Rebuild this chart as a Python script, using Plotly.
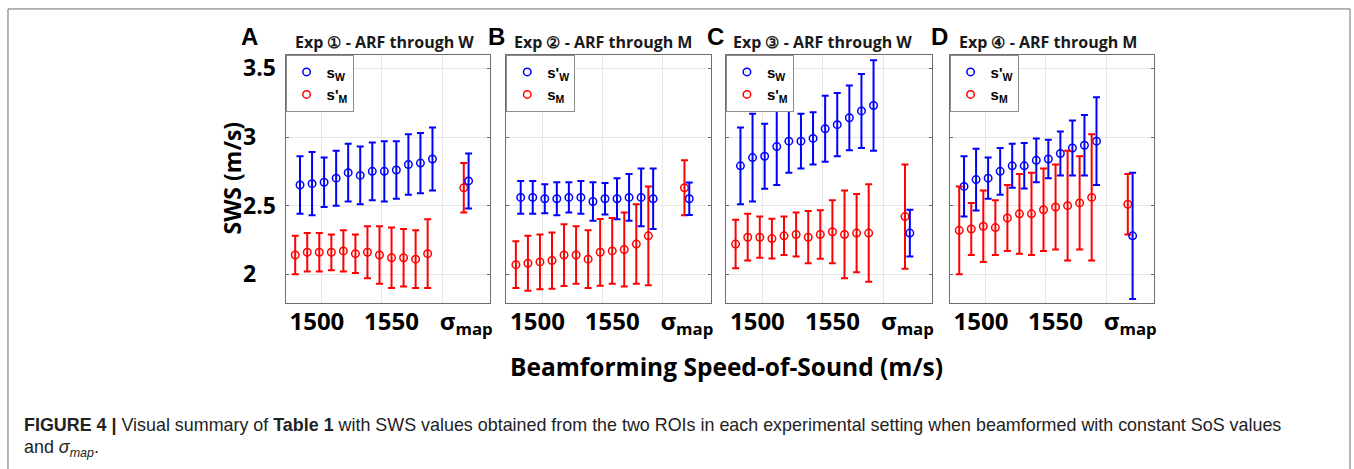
import plotly.graph_objects as go

W, H = 1354, 469

# ---------------- data ----------------
sos = [1480, 1490, 1500, 1510, 1520, 1530, 1540, 1550, 1560, 1570, 1580, 1590]
sigma_x = 1620  # position of the sigma_map group on the axis

panel_letters = ["A", "B", "C", "D"]
panel_titles = ["Exp \u2460 - ARF through W", "Exp \u2461 - ARF through M",
                "Exp \u2462 - ARF through W", "Exp \u2463 - ARF through M"]

blue_names = ["s<sub>W</sub>", "s'<sub>W</sub>", "s<sub>W</sub>", "s'<sub>W</sub>"]
red_names = ["s'<sub>M</sub>", "s<sub>M</sub>", "s'<sub>M</sub>", "s<sub>M</sub>"]

# Panel A
blue_A = [2.65, 2.66, 2.67, 2.70, 2.74, 2.72, 2.75, 2.75, 2.76, 2.80, 2.81, 2.84]
blue_A_err = [0.21, 0.23, 0.18, 0.20, 0.21, 0.21, 0.21, 0.22, 0.21, 0.22, 0.22, 0.23]
red_A = [2.14, 2.16, 2.16, 2.16, 2.17, 2.15, 2.16, 2.14, 2.12, 2.12, 2.11, 2.15]
red_A_err = [0.14, 0.14, 0.14, 0.13, 0.15, 0.14, 0.19, 0.21, 0.22, 0.21, 0.21, 0.25]
sig_A = {"red": (2.63, 0.18), "blue": (2.68, 0.20)}

# Panel B
blue_B = [2.56, 2.56, 2.55, 2.55, 2.56, 2.56, 2.53, 2.55, 2.55, 2.56, 2.56, 2.55]
blue_B_err = [0.12, 0.12, 0.105, 0.12, 0.11, 0.12, 0.14, 0.115, 0.15, 0.17, 0.21, 0.22]
red_B = [2.07, 2.08, 2.09, 2.10, 2.14, 2.14, 2.11, 2.16, 2.17, 2.18, 2.22, 2.28]
red_B_err = [0.17, 0.20, 0.20, 0.205, 0.225, 0.21, 0.21, 0.243, 0.24, 0.27, 0.29, 0.36]
sig_B = {"red": (2.63, 0.20), "blue": (2.55, 0.118)}

# Panel C
blue_C = [2.79, 2.85, 2.86, 2.93, 2.97, 2.97, 2.99, 3.06, 3.09, 3.14, 3.19, 3.23]
blue_C_err = [0.28, 0.32, 0.237, 0.28, 0.23, 0.20, 0.19, 0.24, 0.23, 0.236, 0.27, 0.33]
red_C = [2.22, 2.27, 2.27, 2.26, 2.28, 2.29, 2.27, 2.29, 2.31, 2.29, 2.30, 2.30]
red_C_err = [0.177, 0.17, 0.15, 0.145, 0.14, 0.16, 0.19, 0.177, 0.23, 0.32, 0.285, 0.355]
sig_C = {"red": (2.42, 0.38), "blue": (2.30, 0.17)}

# Panel D
blue_D = [2.64, 2.69, 2.70, 2.75, 2.79, 2.79, 2.83, 2.84, 2.88, 2.92, 2.94, 2.97]
blue_D_err = [0.22, 0.225, 0.15, 0.17, 0.16, 0.166, 0.16, 0.14, 0.16, 0.20, 0.22, 0.32]
red_D = [2.32, 2.33, 2.35, 2.34, 2.41, 2.44, 2.44, 2.47, 2.49, 2.50, 2.52, 2.56]
red_D_err = [0.32, 0.19, 0.26, 0.20, 0.24, 0.29, 0.30, 0.30, 0.31, 0.40, 0.34, 0.46]
sig_D = {"red": (2.51, 0.22), "blue": (2.28, 0.46)}

x_tick_vals = [1496, 1558, 1620]
x_tick_text = ["1500", "1550", "\u03c3<sub>map</sub>"]
x_grid_vals = [1500, 1550, 1600]
y_tick_vals = [2, 2.5, 3, 3.5]
y_tick_text = ["2\u2008\u2007", "2.5", "3\u2008\u2007", "3.5"]

panels = [
    (blue_A, blue_A_err, red_A, red_A_err, sig_A),
    (blue_B, blue_B_err, red_B, red_B_err, sig_B),
    (blue_C, blue_C_err, red_C, red_C_err, sig_C),
    (blue_D, blue_D_err, red_D, red_D_err, sig_D),
]

# ---------------- layout helpers ----------------
def px(x):
    return x / W

def py(y):
    return 1 - y / H

x_doms = [(286, 491), (507, 712), (727, 933), (951, 1156)]
y_top, y_bot = 52, 302
BLUE, RED = "#0000ff", "#ff0000"
FONT = "Open Sans"
offset = 2  # horizontal dodge between the two series

fig = go.Figure()
layout = dict(
    width=W, height=H,
    margin=dict(l=0, r=0, t=0, b=0),
    paper_bgcolor="white", plot_bgcolor="white",
    showlegend=True,
    annotations=[], shapes=[],
)

for i, (bv, be, rv, re_, sig) in enumerate(panels):
    n = "" if i == 0 else str(i + 1)
    xa, ya = "x" + n, "y" + n
    leg = "legend" + n

    def add(xs, ys, es, color, name, show):
        fig.add_trace(go.Scatter(
            x=xs, y=ys, mode="markers", name=name,
            xaxis=xa, yaxis=ya, legend=leg, showlegend=show,
            marker=dict(symbol="circle-open", size=7.5, color=color,
                        line=dict(width=1.5, color=color)),
            error_y=dict(type="data", array=es, color=color, thickness=2, width=3.5),
            hoverinfo="skip",
        ))

    add([s + offset for s in sos], bv, be, BLUE, blue_names[i], True)
    add([s - offset for s in sos], rv, re_, RED, red_names[i], True)
    add([sigma_x - offset], [sig["red"][0]], [sig["red"][1]], RED, "", False)
    add([sigma_x + offset], [sig["blue"][0]], [sig["blue"][1]], BLUE, "", False)

    x0, x1 = x_doms[i]
    layout["xaxis" + n] = dict(
        domain=[px(x0), px(x1)], anchor=ya, range=[1470, 1640],
        tickmode="array", tickvals=x_tick_vals, ticktext=x_tick_text,
        tickfont=dict(family=FONT, size=24, color="black", weight="bold"),
        ticklabelstandoff=-3,
        showgrid=False, zeroline=False, ticks="",
        showline=True, mirror=True, linecolor="#6e6e6e", linewidth=1,
        minor=dict(tickmode="array", tickvals=x_grid_vals, showgrid=True,
                   gridcolor="#e6e6e6", gridwidth=1, ticks=""),
        fixedrange=True,
    )
    layout["yaxis" + n] = dict(
        domain=[py(y_bot), py(y_top)], anchor=xa, range=[1.79, 3.60],
        tickmode="array", tickvals=y_tick_vals, ticktext=y_tick_text,
        showticklabels=(i == 0), ticklabelstandoff=4,
        tickfont=dict(family=FONT, size=23, color="black", weight="bold"),
        showgrid=True, gridcolor="#e6e6e6", gridwidth=1, zeroline=False,
        ticks="inside", ticklen=3, tickcolor="#6e6e6e",
        showline=True, mirror="ticks", linecolor="#6e6e6e", linewidth=1,
        fixedrange=True,
    )
    layout[leg] = dict(
        x=px(x0), y=py(y_top), xanchor="left", yanchor="top",
        xref="paper", yref="paper",
        bgcolor="white", bordercolor="#8c8c8c", borderwidth=1,
        font=dict(family="Liberation Sans", size=15, color="black", weight="bold"),
        itemwidth=30, tracegroupgap=0,
    )

    letter_x = [250, 497, 717, 941][i]
    layout["annotations"].append(dict(
        text=panel_letters[i], x=px(letter_x), y=py(34), xref="paper", yref="paper",
        showarrow=False, xanchor="center", yanchor="middle",
        font=dict(family="Liberation Sans", size=24, color="black", weight="bold"),
    ))
    title_x = [293, 513, 732, 958][i]
    layout["annotations"].append(dict(
        text=panel_titles[i], x=px(title_x), y=py(39), xref="paper", yref="paper",
        showarrow=False, xanchor="left", yanchor="middle",
        font=dict(family=FONT, size=16, color="#1a1a1a", weight="bold"),
    ))

# axis titles
layout["annotations"].append(dict(
    text="SWS (m/s)", x=px(232), y=py(176), xref="paper", yref="paper",
    showarrow=False, textangle=-90, xanchor="center", yanchor="middle",
    font=dict(family=FONT, size=23, color="black", weight="bold"),
))
layout["annotations"].append(dict(
    text="Beamforming Speed-of-Sound (m/s)", x=px(728), y=py(366),
    xref="paper", yref="paper", showarrow=False, xanchor="center", yanchor="middle",
    font=dict(family=FONT, size=24.5, color="black", weight="bold"),
))

# caption
cap_font = dict(family="Liberation Sans", size=17.9, color="#222222")
layout["annotations"].append(dict(
    text="<b>FIGURE 4 |</b> Visual summary of <b>Table 1</b> with SWS values obtained from the two ROIs "
         "in each experimental setting when beamformed with constant SoS values",
    x=px(22), y=py(425), xref="paper", yref="paper", showarrow=False,
    xanchor="left", yanchor="middle", font=cap_font,
))
layout["annotations"].append(dict(
    text="and <i>\u03c3<sub>map</sub></i>.",
    x=px(22), y=py(448), xref="paper", yref="paper", showarrow=False,
    xanchor="left", yanchor="middle", font=cap_font,
))

# outer frame
layout["shapes"].append(dict(
    type="rect", xref="paper", yref="paper",
    x0=px(8), x1=px(1352), y0=py(490), y1=py(6),
    line=dict(color="#6e6e6e", width=1), fillcolor="rgba(0,0,0,0)", layer="below",
))

fig.update_layout(**layout)
fig.write_html("out.html", config={"displayModeBar": False},
               post_script="document.body.style.margin='0';")
